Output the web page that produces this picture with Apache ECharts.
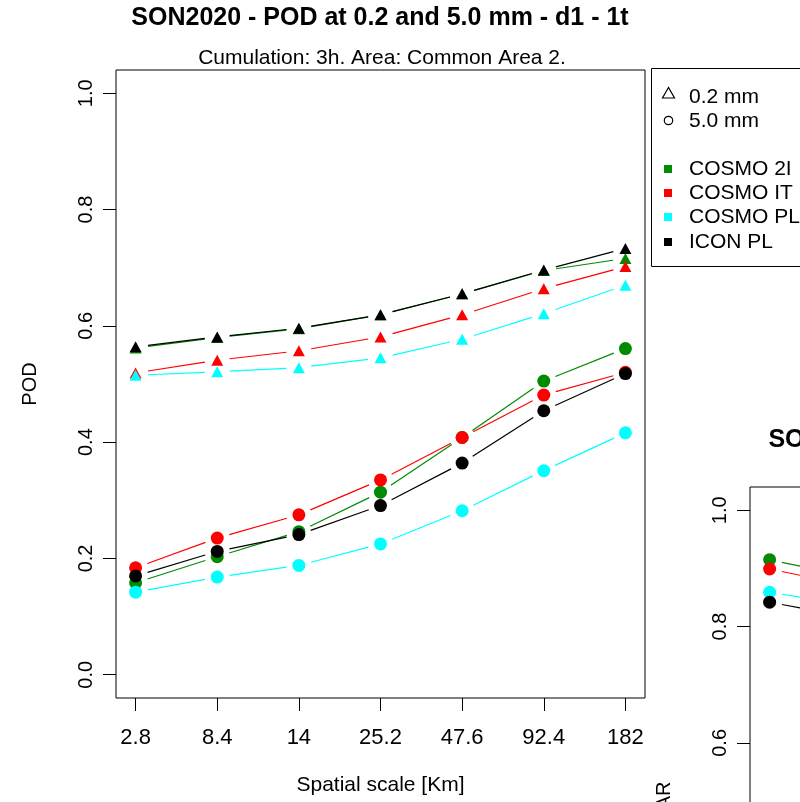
<!DOCTYPE html>
<html>
<head>
<meta charset="utf-8">
<script src="https://cdn.jsdelivr.net/npm/echarts@6/dist/echarts.min.js"></script>
<style>
html,body{margin:0;padding:0;background:#fff;}
#chart{width:800px;height:802px;}
</style>
</head>
<body>
<div id="chart"></div>
<script>
// ---- data ----
const scaleLabels = ['2.8', '8.4', '14', '25.2', '47.6', '92.4', '182'];
const xPositions = [1, 2, 3, 4, 5, 6, 7];
const yTicks = [0.0, 0.2, 0.4, 0.6, 0.8, 1.0];
const models = ['COSMO 2I', 'COSMO IT', 'COSMO PL', 'ICON PL'];
const modelColors = ['#008B00', '#FF0000', '#00FFFF', '#000000'];
const thresholds = ['0.2 mm', '5.0 mm'];

// POD at 0.2 mm (triangles)
const pod02_cosmo2i = [0.562, 0.580, 0.595, 0.619, 0.655, 0.695, 0.716];
const pod02_cosmoit = [0.519, 0.541, 0.557, 0.581, 0.619, 0.664, 0.702];
const pod02_cosmopl = [0.515, 0.521, 0.528, 0.545, 0.577, 0.621, 0.670];
const pod02_iconpl  = [0.564, 0.581, 0.596, 0.619, 0.655, 0.696, 0.733];
// POD at 5.0 mm (circles)
const pod50_cosmo2i = [0.158, 0.203, 0.246, 0.314, 0.408, 0.505, 0.561];
const pod50_cosmoit = [0.184, 0.235, 0.275, 0.335, 0.408, 0.481, 0.520];
const pod50_cosmopl = [0.142, 0.168, 0.188, 0.225, 0.282, 0.351, 0.416];
const pod50_iconpl  = [0.170, 0.212, 0.241, 0.291, 0.364, 0.454, 0.518];
// FAR at 5.0 mm (second panel, only the start is visible)
const far50_cosmo2i = [0.915, 0.885];
const far50_cosmoit = [0.899, 0.870];
const far50_cosmopl = [0.859, 0.836];
const far50_iconpl  = [0.842, 0.815];

const title1 = 'SON2020 - POD at 0.2 and 5.0 mm - d1 - 1t';
const title2 = 'SON2020 - FAR at 0.2 and 5.0 mm - d1 - 1t';
const subtitle = 'Cumulation: 3h. Area: Common Area 2.';
const xName = 'Spatial scale [Km]';
const yName1 = 'POD';
const yName2 = 'FAR';

// ---- build ----
const FONT = "'Liberation Sans', Arial, Helvetica, sans-serif";
const GAP = 12.5; // px gap between line ends and point centres (R type="b")
const pod02 = [pod02_cosmo2i, pod02_cosmoit, pod02_cosmopl, pod02_iconpl];
const pod50 = [pod50_cosmo2i, pod50_cosmoit, pod50_cosmopl, pod50_iconpl];
const far50 = [far50_cosmo2i, far50_cosmoit, far50_cosmopl, far50_iconpl];

function pairs(vals) { return vals.map((v, i) => [xPositions[i], v]); }
function segments(vals) {
  const out = [];
  for (let i = 0; i + 1 < vals.length; i++) out.push([xPositions[i], vals[i], xPositions[i + 1], vals[i + 1]]);
  return out;
}

function xAxisFor(gridIndex) {
  return {
    type: 'value', gridIndex, min: 0.76, max: 7.24,
    name: xName, nameLocation: 'middle', nameGap: 77,
    nameTextStyle: { fontFamily: FONT, fontSize: 21, color: '#000' },
    axisLine: { show: false, onZero: false },
    splitLine: { show: false },
    axisTick: { show: true, inside: false, length: 13, customValues: xPositions, lineStyle: { color: '#000', width: 1 } },
    axisLabel: { customValues: xPositions, margin: 29, fontFamily: FONT, fontSize: 22, color: '#000',
      formatter: v => scaleLabels[Math.round(v) - 1] }
  };
}
function yAxisFor(gridIndex, name) {
  return {
    type: 'value', gridIndex, min: -0.04, max: 1.04,
    name, nameLocation: 'middle', nameGap: 76,
    nameTextStyle: { fontFamily: FONT, fontSize: 20, color: '#000' },
    axisLine: { show: false, onZero: false },
    splitLine: { show: false },
    axisTick: { show: true, inside: false, length: 13, customValues: yTicks, lineStyle: { color: '#000', width: 1 } },
    axisLabel: { customValues: yTicks, margin: 20, rotate: 90, fontFamily: FONT, fontSize: 20, color: '#000',
      formatter: v => v.toFixed(1) }
  };
}

function gappedLine(name, axisIdx, vals, color, z) {
  return {
    type: 'custom', name, xAxisIndex: axisIdx, yAxisIndex: axisIdx,
    data: segments(vals), encode: { x: [0, 2], y: [1, 3] }, z, silent: true,
    renderItem: (params, api) => {
      const p1 = api.coord([api.value(0), api.value(1)]);
      const p2 = api.coord([api.value(2), api.value(3)]);
      const dx = p2[0] - p1[0], dy = p2[1] - p1[1];
      const len = Math.sqrt(dx * dx + dy * dy);
      if (len <= 2 * GAP) return null;
      const ux = dx / len, uy = dy / len;
      return {
        type: 'line',
        shape: { x1: p1[0] + ux * GAP, y1: p1[1] + uy * GAP, x2: p2[0] - ux * GAP, y2: p2[1] - uy * GAP },
        style: { stroke: color, lineWidth: 1.2 }
      };
    }
  };
}
function points(name, axisIdx, vals, color, symbol, size, z) {
  return {
    type: 'scatter', name, xAxisIndex: axisIdx, yAxisIndex: axisIdx,
    data: pairs(vals), symbol, symbolSize: size, itemStyle: { color, opacity: 1 }, z, silent: true
  };
}

const series = [];
models.forEach((m, k) => {
  const c = modelColors[k];
  series.push(gappedLine(m + ' ' + thresholds[0], 0, pod02[k], c, 2 + k));
  series.push(points(m + ' ' + thresholds[0], 0, pod02[k], c, 'triangle', [12, 11], 2 + k));
  series.push(gappedLine(m + ' ' + thresholds[1], 0, pod50[k], c, 2 + k));
  series.push(points(m + ' ' + thresholds[1], 0, pod50[k], c, 'circle', 13, 2 + k));
  series.push(gappedLine(m + ' FAR ' + thresholds[1], 1, far50[k], c, 2 + k));
  series.push(points(m + ' FAR ' + thresholds[1], 1, far50[k], c, 'circle', 13, 2 + k));
});

function txt(x, y, text, size, weight, align) {
  const a = align || 'center';
  return {
    type: 'text', x, y, z: 100,
    style: { text, fontFamily: FONT, fontSize: size, fontWeight: weight || 'normal', fill: '#000',
      align: a, verticalAlign: 'middle', textAlign: a, textVerticalAlign: 'middle' }
  };
}

const graphics = [
  txt(380, 18, title1, 25, 'bold'),
  txt(382, 58, subtitle, 21),
  txt(1015, 440, title2, 25, 'bold'),
  txt(1017, 478, subtitle, 21),
  { type: 'rect', shape: { x: 651.5, y: 68.5, width: 220, height: 198 },
    style: { fill: '#fff', stroke: '#000', lineWidth: 1 }, z: 50 },
  { type: 'polygon', shape: { points: [[668.5, 87.5], [662.5, 98], [674.5, 98]] },
    style: { fill: 'none', stroke: '#000', lineWidth: 1.2 }, z: 100 },
  { type: 'circle', shape: { cx: 668.5, cy: 120.5, r: 4.2 },
    style: { fill: 'none', stroke: '#000', lineWidth: 1.2 }, z: 100 },
];
const legendTextX = 689;
graphics.push(txt(legendTextX, 97, thresholds[0], 21, 'normal', 'left'));
graphics.push(txt(legendTextX, 121, thresholds[1], 21, 'normal', 'left'));
const legendRowY = [169, 193, 217, 242];
models.forEach((m, k) => {
  graphics.push({ type: 'rect', shape: { x: 664, y: legendRowY[k] - 4, width: 8, height: 8 },
    style: { fill: modelColors[k] }, z: 100 });
  graphics.push(txt(legendTextX, legendRowY[k], m, 21, 'normal', 'left'));
});

const option = {
  animation: false,
  backgroundColor: '#fff',
  grid: [
    { left: 116, top: 70, width: 529, height: 628, show: true, borderColor: '#000', borderWidth: 1,
      backgroundColor: 'transparent', containLabel: false, outerBoundsMode: 'none' },
    { left: 750, top: 487, width: 530, height: 628, show: true, borderColor: '#000', borderWidth: 1,
      backgroundColor: 'transparent', containLabel: false, outerBoundsMode: 'none' }
  ],
  xAxis: [xAxisFor(0), xAxisFor(1)],
  yAxis: [yAxisFor(0, yName1), yAxisFor(1, yName2)],
  series,
  graphic: graphics
};

const chart = echarts.init(document.getElementById('chart'), null, { renderer: 'canvas' });
chart.setOption(option);
</script>
</body>
</html>
